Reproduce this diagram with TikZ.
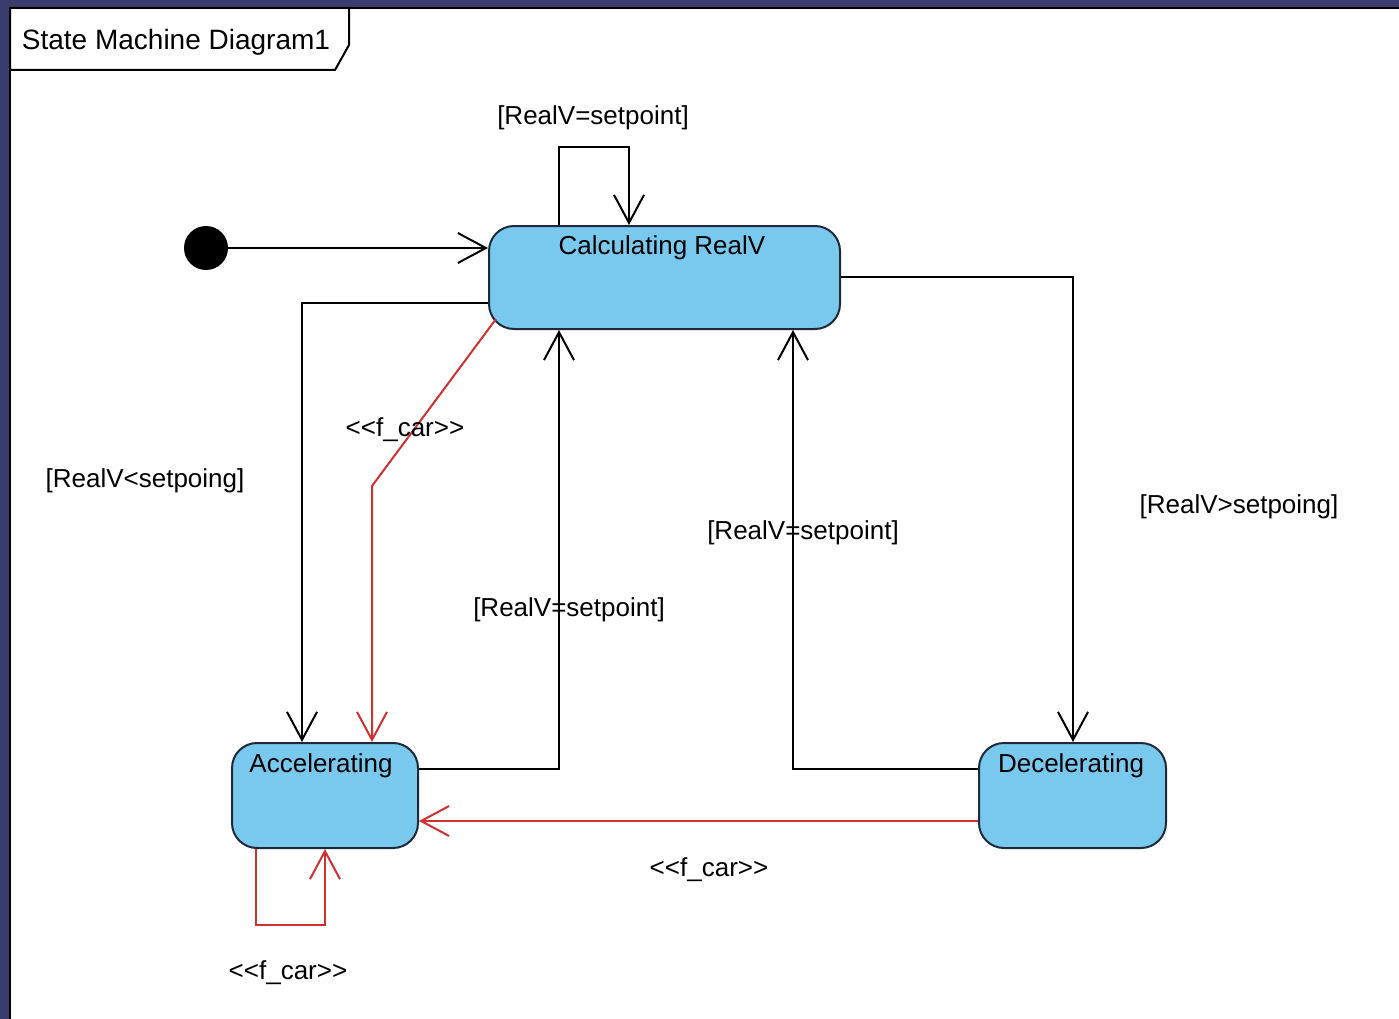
\documentclass[tikz,border=0pt]{standalone}
\usepackage{fontspec}
\setmainfont{Liberation Sans}
\usetikzlibrary{arrows.meta,calc}
\definecolor{bgdark}{HTML}{3B3C6E}
\definecolor{statefill}{HTML}{79C9EF}
\definecolor{stateline}{HTML}{1E2A3A}
\definecolor{redline}{HTML}{D03030}
\newcommand{\fcar}{{<}{<}f\_car{>}{>}}
\tikzset{
  lbl/.style={font=\fontsize{26}{30}\selectfont, inner sep=0pt, text=black},
  statebox/.style={draw=stateline, line width=2pt, fill=statefill, rounded corners=25pt, inner sep=0pt},
  arr/.style={draw=black, line width=2pt, -{Straight Barb[length=28pt,width=30pt,line width=2pt]}},
  redarr/.style={draw=redline, line width=2pt, -{Straight Barb[length=28pt,width=30pt,line width=2pt]}},
}
\begin{document}
\begin{tikzpicture}[x=1pt,y=-1pt]
\useasboundingbox (0,0) rectangle (1399,1019);
\fill[bgdark] (0,0) rectangle (1399,1019);
\draw[fill=white, line width=2pt] (10,8) rectangle (1405,1025);
% title frame
\draw[line width=2pt, fill=white] (10,8) -- (349,8) -- (349,45) -- (335,70) -- (10,70) -- cycle;
\node[lbl, font=\fontsize{28}{32}\selectfont] (title) at (176,42) {State Machine Diagram1};
% states
\node[statebox, minimum width=351pt, minimum height=103pt] (calc) at (664.5,277.5) {};
\node[lbl] (calcT) at (662,248) {Calculating RealV};
\node[statebox, minimum width=186pt, minimum height=105pt] (acc) at (325,795.5) {};
\node[lbl] (accT) at (321,766) {Accelerating};
\node[statebox, minimum width=187pt, minimum height=105pt] (dec) at (1072.5,795.5) {};
\node[lbl] (decT) at (1071,766) {Decelerating};
% initial
\node[circle, fill=black, minimum size=44pt, inner sep=0pt] (init) at (206,248) {};
% connectors
\draw[arr] (init.east) -- (init.east -| calc.west);
\draw[arr] ([xshift=-105.5pt]calc.north) -- ++(0,-78) -- ++(70,0) -- ([xshift=-35.5pt]calc.north);
\draw[arr] ([yshift=-25.5pt]calc.west) -| ([xshift=-23pt]acc.north);
\draw[redarr] ($(calc.south west)+(8,-11)$) -- ([xshift=47pt,yshift=256pt]acc.north) -- ([xshift=47pt]acc.north);
\draw[arr] ([yshift=26.5pt]acc.east) -| ([xshift=-105.5pt]calc.south);
\draw[arr] ([yshift=26.5pt]dec.west) -| ([xshift=128.5pt]calc.south);
\draw[arr] ([yshift=0.5pt]calc.east) -| ([xshift=0.5pt]dec.north);
\draw[redarr] ([yshift=-25.5pt]dec.west) -- ([yshift=-25.5pt]acc.east);
\draw[redarr] ([xshift=-69pt]acc.south) -- ++(0,76) -- ++(69,0) -- (acc.south);
% labels
\node[lbl] (l1) at (593,118) {[RealV=setpoint]};
\node[lbl] (l2) at (145,481) {[RealV<setpoing]};
\node[lbl] (l3) at (405,430) {\fcar};
\node[lbl] (l4) at (569,610) {[RealV=setpoint]};
\node[lbl] (l5) at (803,533) {[RealV=setpoint]};
\node[lbl] (l6) at (1239,507) {[RealV>setpoing]};
\node[lbl] (l7) at (709,870) {\fcar};
\node[lbl] (l8) at (288,973) {\fcar};
\end{tikzpicture}
\end{document}
